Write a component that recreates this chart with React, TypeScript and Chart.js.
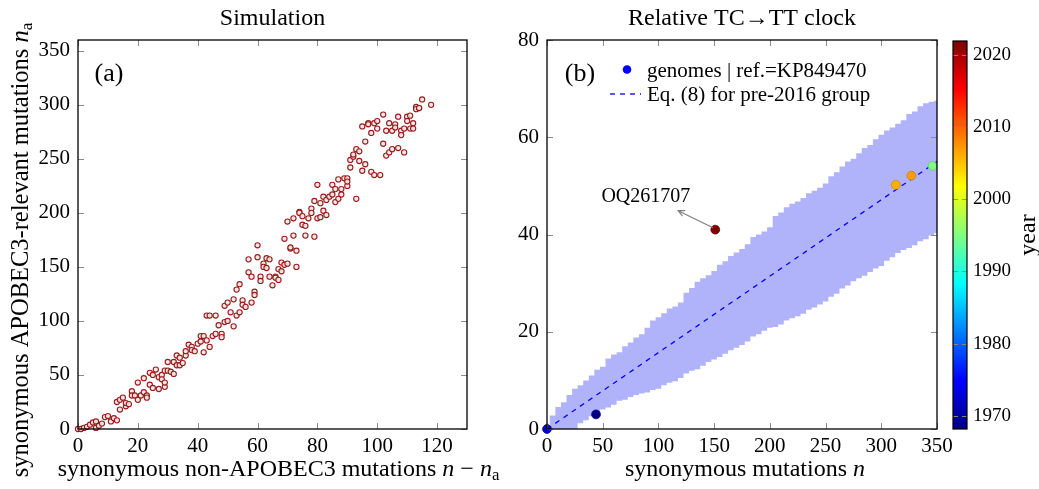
import React, { useEffect, useRef } from 'react';
import { Chart, registerables } from 'chart.js';
Chart.register(...registerables);

const FONT = '"Liberation Serif", "Times New Roman", serif';

// ---------- Panel (a): Simulation ----------
const simNonA = [0,1,2,3,4,5,6,6,7,8,9,10,11,12,13,13,14,14,15,16,16,17,18,18,19,20,20,21,22,22,23,23,24,24,25,25,26,27,27,28,28,29,29,30,29,30,31,32,32,33,33,34,34,35,36,36,37,38,38,39,40,41,41,42,42,43,43,44,44,45,46,46,47,48,48,49,49,50,50,51,52,52,53,53,54,54,55,55,56,57,57,58,58,59,59,60,60,61,61,62,62,63,63,64,64,65,66,66,67,67,68,68,69,69,70,70,71,71,72,72,73,73,74,74,75,75,76,76,77,78,78,79,79,80,80,81,81,82,82,83,83,84,85,85,86,86,87,87,88,88,89,90,90,90,91,91,92,92,93,93,94,94,95,95,96,96,97,97,98,98,99,99,100,100,101,102,102,103,103,104,104,105,105,106,106,107,107,108,108,109,109,110,110,111,111,112,112,113,113,114,114,115,118];
const simA = [0,0,1,2,4,6,1,7,3,5,11,12,7,10,8,25,18,27,29,21,24,23,35,31,31,27,43,31,47,34,31,29,52,41,38,50,55,37,48,50,46,39,43,62,54,54,53,51,62,68,59,59,66,61,68,72,78,76,73,72,79,81,86,86,71,82,105,105,76,86,105,88,96,88,85,99,114,100,117,108,95,120,129,105,134,108,119,115,113,157,145,141,117,127,124,170,159,141,137,153,150,158,149,157,141,133,141,140,148,138,154,146,176,152,192,153,167,168,179,195,165,150,201,200,189,197,179,188,195,204,200,178,211,226,195,196,209,215,202,198,212,215,226,217,210,222,213,231,222,217,232,232,225,229,242,249,252,254,259,213,248,257,280,239,266,245,283,282,274,238,235,283,285,278,235,291,264,276,253,283,256,259,276,282,279,289,260,276,272,278,256,289,285,290,278,283,278,298,296,297,297,305,300];
const simXTicks = [0, 20, 40, 60, 80, 100, 120];
const simYTicks = [0, 50, 100, 150, 200, 250, 300, 350];

// ---------- Panel (b): Relative TC->TT clock ----------
const genomeN = [0, 44, 151, 313, 327, 346];
const genomeTT = [0, 3, 41, 50.2, 52.1, 54.1];
const genomeYear = [1972, 1968.5, 2022, 2006, 2007, 1995];
const bandN = [0,5,10,15,20,25,30,35,40,45,50,55,60,65,70,75,80,85,90,95,100,105,110,115,120,125,130,135,140,145,150,155,160,165,170,175,180,185,190,195,200,205,210,215,220,225,230,235,240,245,250,255,260,265,270,275,280,285,290,295,300,305,310,315,320,325,330,335,340,345,350];
const bandUpper = [0,2.8,4.5,5.5,7,8.3,9,10,11,12.2,12.8,14.5,15.3,15.8,17,17.8,18.8,19.5,20.8,22.3,23,23.8,24.8,25.2,26,28,29,30.3,31,31.6,32.5,33.8,34.5,35.6,36.3,37,38,39.5,40,40.6,41.5,43.8,44.5,45.6,46.3,46.8,47.5,48.5,49,49.6,50.5,52,52.8,54,55,55.6,56.7,57.8,58.4,59.6,60.5,61.4,62,62.8,63.5,64.8,65.3,66.4,67,67.3,67.5];
const bandLower = [0,0,0,0,0,0,1.2,1.8,2.6,3.5,4,4.4,5,5.8,6,6.6,7,7.3,7.5,8,8.3,9,9.5,9.8,10.5,11.4,12,12.3,13,13.8,14.3,14.8,15.5,16.2,16.7,17.3,18,19,19.5,20.2,20.8,21,21.5,22.3,22.8,23.2,23.7,24.5,25,25.6,26.2,27.2,27.8,28.9,29.5,30.4,31,31.5,32.3,33,33.5,34.6,35.3,36.2,36.8,37.2,37.8,38.6,39,39.8,40.3];
const eqN = [0, 350];
const eqTT = [0, 55];
const clockXTicks = [0, 50, 100, 150, 200, 250, 300, 350];
const clockYTicks = [0, 20, 40, 60, 80];
const annoLabel = 'OQ261707';
const annoTextAt = [88.7, 48];
const annoArrowFrom = [149, 41.4];
const annoArrowTo = [117.7, 44.9];

// ---------- Colour bar ----------
const yearMin = 1968.2;
const yearMax = 2021.9;
const yearTicks = [1970, 1980, 1990, 2000, 2010, 2020];

const clamp = (v: number) => Math.max(0, Math.min(1, v));
function jetRGB(t: number): number[] {
  t = clamp(t);
  const r = clamp(Math.min(4 * t - 1.5, -4 * t + 4.5));
  const g = clamp(Math.min(4 * t - 0.5, -4 * t + 3.5));
  const b = clamp(Math.min(4 * t + 0.5, -4 * t + 2.5));
  return [r * 255, g * 255, b * 255];
}
const jet = (t: number, k = 1) => {
  const [r, g, b] = jetRGB(t);
  return `rgb(${Math.round(r * k)},${Math.round(g * k)},${Math.round(b * k)})`;
};
const yearT = (y: number) => (y - yearMin) / (yearMax - yearMin);

type Seg = { t: string; it?: boolean; sub?: boolean };
function drawRich(ctx: CanvasRenderingContext2D, segs: Seg[], cx: number, cy: number, size: number, rot = 0, align: 'center' | 'left' = 'center') {
  const fontFor = (s: Seg) => `${s.it ? 'italic ' : ''}${s.sub ? size * 0.7 : size}px ${FONT}`;
  let w = 0;
  for (const s of segs) { ctx.font = fontFor(s); w += ctx.measureText(s.t).width; }
  ctx.save();
  ctx.translate(cx, cy);
  ctx.rotate(rot);
  ctx.fillStyle = '#000';
  ctx.textBaseline = 'alphabetic';
  ctx.textAlign = 'left';
  let x = align === 'center' ? -w / 2 : 0;
  for (const s of segs) {
    ctx.font = fontFor(s);
    ctx.fillText(s.t, x, s.sub ? size * 0.5 : size * 0.33);
    x += ctx.measureText(s.t).width;
  }
  ctx.restore();
}

const frameTicks = {
  id: 'frameTicks',
  afterDatasetsDraw(chart: any) {
    const { ctx, chartArea: a } = chart;
    const sx = chart.scales.x, sy = chart.scales.y;
    ctx.save();
    ctx.strokeStyle = '#8c8c8c';
    ctx.lineWidth = 1;
    ctx.beginPath();
    for (const t of sx.ticks) {
      const p = Math.round(sx.getPixelForValue(t.value)) + 0.5;
      ctx.moveTo(p, a.bottom); ctx.lineTo(p, a.bottom - 6);
      ctx.moveTo(p, a.top); ctx.lineTo(p, a.top + 6);
    }
    for (const t of sy.ticks) {
      const p = Math.round(sy.getPixelForValue(t.value)) + 0.5;
      ctx.moveTo(a.left, p); ctx.lineTo(a.left + 6, p);
      ctx.moveTo(a.right, p); ctx.lineTo(a.right - 6, p);
    }
    ctx.stroke();
    ctx.strokeStyle = '#000';
    ctx.lineWidth = 1.3;
    ctx.strokeRect(a.left, a.top, a.right - a.left, a.bottom - a.top);
    ctx.restore();
  },
};

const tickFont = { family: FONT, size: 21 };
const fixTicks = (arr: number[]) => (s: any) => { s.ticks = arr.map((v) => ({ value: v })); };
const plain = (v: any) => String(v);

export default function App() {
  const aRef = useRef<HTMLCanvasElement>(null);
  const bRef = useRef<HTMLCanvasElement>(null);
  const cRef = useRef<HTMLCanvasElement>(null);

  useEffect(() => {
    const charts: Chart[] = [];

    // ----- Panel (a) -----
    const decoA = {
      id: 'decoA',
      afterDraw(chart: any) {
        const { ctx, chartArea: a } = chart;
        const cx = (a.left + a.right) / 2;
        drawRich(ctx, [{ t: 'Simulation' }], cx, 17, 24);
        drawRich(ctx, [{ t: '(a)' }], a.left + 31, a.top + 32, 26);
        drawRich(ctx, [{ t: 'synonymous non-APOBEC3 mutations ' }, { t: 'n', it: true }, { t: ' − ' }, { t: 'n', it: true }, { t: 'a', sub: true }], cx + 6, 468, 24);
        drawRich(ctx, [{ t: 'synonymous APOBEC3-relevant mutations ' }, { t: 'n', it: true }, { t: 'a', sub: true }], 20, 250, 24.5, -Math.PI / 2);
      },
    };
    charts.push(new Chart(aRef.current!, {
      type: 'scatter',
      data: {
        datasets: [{
          data: simNonA.map((x, i) => ({ x, y: simA[i] })),
          pointRadius: 2.6,
          pointBorderWidth: 1.1,
          borderColor: '#981b1b',
          backgroundColor: 'rgba(250,228,228,0.9)',
          clip: false,
        } as any],
      },
      options: {
        responsive: false,
        animation: false,
        devicePixelRatio: 1,
        layout: { padding: { left: 0, right: 73, top: 40, bottom: 0 } },
        plugins: { legend: { display: false }, tooltip: { enabled: false }, title: { display: false } },
        scales: {
          x: {
            type: 'linear', min: 0, max: 130,
            afterBuildTicks: fixTicks(simXTicks),
            afterFit: (s: any) => { s.height = 60; },
            grid: { display: false, drawTicks: false }, border: { display: false },
            ticks: { font: tickFont, color: '#000', padding: 5, maxRotation: 0, autoSkip: false, callback: plain },
          },
          y: {
            type: 'linear', min: 0, max: 360,
            afterBuildTicks: fixTicks(simYTicks),
            afterFit: (s: any) => { s.width = 78; },
            grid: { display: false, drawTicks: false }, border: { display: false },
            ticks: { font: tickFont, color: '#000', padding: 8, autoSkip: false, callback: plain },
          },
        },
      } as any,
      plugins: [frameTicks, decoA],
    }));

    // ----- Panel (b) -----
    const decoB = {
      id: 'decoB',
      afterDraw(chart: any) {
        const { ctx, chartArea: a, scales } = chart;
        const sx = scales.x, sy = scales.y;
        const cx = (a.left + a.right) / 2;
        drawRich(ctx, [{ t: 'Relative TC→TT clock' }], cx, 17, 24);
        drawRich(ctx, [{ t: 'synonymous mutations ' }, { t: 'n', it: true }], cx + 3, 468, 24);
        drawRich(ctx, [{ t: '(b)' }], a.left + 33, a.top + 32, 26);
        // legend
        ctx.save();
        ctx.fillStyle = '#0000ff';
        ctx.beginPath();
        ctx.arc(a.left + 80, a.top + 29.5, 4.3, 0, Math.PI * 2);
        ctx.fill();
        ctx.strokeStyle = '#0000ff';
        ctx.lineWidth = 1.3;
        ctx.setLineDash([5, 5]);
        ctx.beginPath();
        ctx.moveTo(a.left + 63, a.top + 54);
        ctx.lineTo(a.left + 94, a.top + 54);
        ctx.stroke();
        ctx.restore();
        drawRich(ctx, [{ t: 'genomes | ref.=KP849470' }], a.left + 100, a.top + 30, 21, 0, 'left');
        drawRich(ctx, [{ t: 'Eq. (8) for pre-2016 group' }], a.left + 100, a.top + 54, 21, 0, 'left');
        // annotation
        const x0 = sx.getPixelForValue(annoArrowFrom[0]), y0 = sy.getPixelForValue(annoArrowFrom[1]);
        const x1 = sx.getPixelForValue(annoArrowTo[0]), y1 = sy.getPixelForValue(annoArrowTo[1]);
        ctx.save();
        ctx.strokeStyle = '#808080';
        ctx.lineWidth = 1.2;
        ctx.beginPath();
        ctx.moveTo(x0, y0); ctx.lineTo(x1, y1);
        const ang = Math.atan2(y1 - y0, x1 - x0);
        const h = 7;
        ctx.moveTo(x1 - h * Math.cos(ang - 0.45), y1 - h * Math.sin(ang - 0.45));
        ctx.lineTo(x1, y1);
        ctx.lineTo(x1 - h * Math.cos(ang + 0.45), y1 - h * Math.sin(ang + 0.45));
        ctx.stroke();
        ctx.restore();
        drawRich(ctx, [{ t: annoLabel }], sx.getPixelForValue(annoTextAt[0]), sy.getPixelForValue(annoTextAt[1]), 20);
      },
    };
    const pointCols = genomeYear.map((y) => jet(yearT(y)));
    const pointEdge = genomeYear.map((y) => jet(yearT(y), 0.8));
    charts.push(new Chart(bRef.current!, {
      type: 'scatter',
      data: {
        datasets: [
          {
            data: genomeN.map((x, i) => ({ x, y: genomeTT[i] })),
            pointRadius: 4.4,
            pointBorderWidth: 0.8,
            pointBackgroundColor: pointCols,
            pointBorderColor: pointEdge,
            clip: false,
          } as any,
          {
            type: 'line',
            data: eqN.map((x, i) => ({ x, y: eqTT[i] })),
            borderColor: '#0000ff',
            borderWidth: 1.3,
            borderDash: [5, 5],
            pointRadius: 0,
            fill: false,
          },
          {
            type: 'line',
            data: bandN.map((x, i) => ({ x, y: bandUpper[i] })),
            borderWidth: 0,
            borderColor: 'rgba(0,0,0,0)',
            backgroundColor: 'rgb(177,179,250)',
            pointRadius: 0,
            stepped: 'middle',
            fill: '+1',
          },
          {
            type: 'line',
            data: bandN.map((x, i) => ({ x, y: bandLower[i] })),
            borderWidth: 0,
            borderColor: 'rgba(0,0,0,0)',
            pointRadius: 0,
            stepped: 'middle',
            fill: false,
          },
        ],
      } as any,
      options: {
        responsive: false,
        animation: false,
        devicePixelRatio: 1,
        layout: { padding: { left: 0, right: 33, top: 40, bottom: 0 } },
        plugins: { legend: { display: false }, tooltip: { enabled: false }, title: { display: false } },
        scales: {
          x: {
            type: 'linear', min: 0, max: 350,
            afterBuildTicks: fixTicks(clockXTicks),
            afterFit: (s: any) => { s.height = 60; },
            grid: { display: false, drawTicks: false }, border: { display: false },
            ticks: { font: tickFont, color: '#000', padding: 5, maxRotation: 0, autoSkip: false, callback: plain },
          },
          y: {
            type: 'linear', min: 0, max: 80,
            afterBuildTicks: fixTicks(clockYTicks),
            afterFit: (s: any) => { s.width = 57; },
            grid: { display: false, drawTicks: false }, border: { display: false },
            ticks: { font: tickFont, color: '#000', padding: 8, autoSkip: false, callback: plain },
          },
        },
      } as any,
      plugins: [frameTicks, decoB],
    }));

    // ----- Colour bar -----
    const decoC = {
      id: 'decoC',
      afterDatasetsDraw(chart: any) {
        const { ctx, chartArea: a, scales } = chart;
        const sy = scales.y;
        ctx.save();
        ctx.strokeStyle = 'rgba(140,140,140,0.9)';
        ctx.lineWidth = 1;
        ctx.beginPath();
        for (const t of sy.ticks) {
          const p = Math.round(sy.getPixelForValue(t.value)) + 0.5;
          ctx.moveTo(a.left, p); ctx.lineTo(a.left + 5, p);
          ctx.moveTo(a.right, p); ctx.lineTo(a.right - 5, p);
        }
        ctx.stroke();
        ctx.strokeStyle = '#000';
        ctx.lineWidth = 1.2;
        ctx.strokeRect(a.left, a.top, a.right - a.left, a.bottom - a.top);
        ctx.restore();
        drawRich(ctx, [{ t: 'year' }], a.right + 60, (a.top + a.bottom) / 2, 24, -Math.PI / 2);
      },
    };
    charts.push(new Chart(cRef.current!, {
      type: 'bar',
      data: {
        labels: ['year'],
        datasets: [{
          data: [[yearMin, yearMax]],
          barPercentage: 1,
          categoryPercentage: 1,
          borderWidth: 0,
          backgroundColor: (c: any) => {
            const ch = c.chart;
            const ca = ch.chartArea;
            if (!ca) return 'rgba(0,0,0,0)';
            const g = ch.ctx.createLinearGradient(0, ca.bottom, 0, ca.top);
            [0, 0.125, 0.375, 0.625, 0.875, 1].forEach((s) => g.addColorStop(s, jet(s)));
            return g;
          },
        }],
      } as any,
      options: {
        responsive: false,
        animation: false,
        devicePixelRatio: 1,
        layout: { padding: { left: 13, right: 0, top: 41, bottom: 60 } },
        plugins: { legend: { display: false }, tooltip: { enabled: false }, title: { display: false } },
        scales: {
          x: { display: false },
          y: {
            position: 'right',
            type: 'linear', min: yearMin, max: yearMax,
            afterBuildTicks: fixTicks(yearTicks),
            afterFit: (s: any) => { s.width = 72; },
            grid: { display: false, drawTicks: false }, border: { display: false },
            ticks: { font: { family: FONT, size: 19 }, color: '#000', padding: 6, autoSkip: false, callback: plain },
          },
        },
      } as any,
      plugins: [decoC],
    }));

    return () => charts.forEach((c) => c.destroy());
  }, []);

  return (
    <div style={{ position: 'absolute', left: 0, top: 0, width: 1039, height: 489, background: '#fff', overflow: 'hidden' }}>
      <canvas ref={aRef} width={540} height={489} style={{ position: 'absolute', left: 0, top: 0 }} />
      <canvas ref={bRef} width={480} height={489} style={{ position: 'absolute', left: 490, top: 0 }} />
      <canvas ref={cRef} width={99} height={489} style={{ position: 'absolute', left: 940, top: 0 }} />
    </div>
  );
}
